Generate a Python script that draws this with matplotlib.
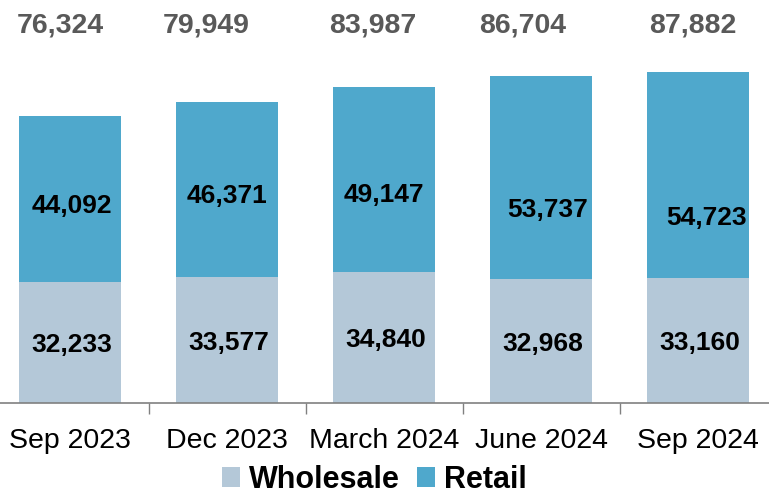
import matplotlib.pyplot as plt

plt.rcParams['font.family'] = ['Liberation Sans', 'DejaVu Sans']

# Datos de inventario por periodo
periodos = ["Sep 2023", "Dec 2023", "March 2024", "June 2024", "Sep 2024"]
wholesale = [32233, 33577, 34840, 32968, 33160]
retail = [44092, 46371, 49147, 53737, 54723]
totales = [76324, 79949, 83987, 86704, 87882]

color_wholesale = "#B4C8D8"
color_retail = "#4FA8CC"

fig = plt.figure(figsize=(7.69, 4.94), dpi=100)
ax = fig.add_axes([0, 0.1842, 1, 0.8158])

x = range(len(periodos))
ancho = 0.65
ax.bar(x, wholesale, width=ancho, color=color_wholesale, label="Wholesale")
ax.bar(x, retail, width=ancho, bottom=wholesale, color=color_retail, label="Retail")

# Ajustes manuales de posición de las etiquetas (en puntos)
dx_retail = [1, 0, 0, 5, 6]
dy_retail = [-5, -5, -11, -23, -31]
dx_total = [-7, -15, -8, -13, -4]

for i in x:
    ax.annotate(f"{wholesale[i]:,}", (i, wholesale[i] / 2), xytext=(1, -2),
                textcoords="offset points", ha="center", va="center",
                fontsize=19, fontweight="bold", color="black")
    ax.annotate(f"{retail[i]:,}", (i, wholesale[i] + retail[i] / 2),
                xytext=(dx_retail[i], dy_retail[i]), textcoords="offset points",
                ha="center", va="center", fontsize=19, fontweight="bold", color="black")
    ax.annotate(f"{totales[i]:,}", (i, 100300), xytext=(dx_total[i], 0),
                textcoords="offset points", ha="center", va="center",
                fontsize=20.5, fontweight="bold", color="#595959")

ax.set_xlim(-0.446, 4.452)
ax.set_ylim(0, 107000)

ax.set_xticks(list(x))
ax.set_xticklabels(periodos, fontsize=20.5)
ax.tick_params(axis="x", which="major", length=0, pad=18)
ax.set_xticks([0.5, 1.5, 2.5, 3.5], minor=True)
ax.tick_params(axis="x", which="minor", length=8, color="#808080", width=1)
ax.set_yticks([])

for lado in ["top", "right", "left"]:
    ax.spines[lado].set_visible(False)
ax.spines["bottom"].set_color("#808080")
ax.spines["bottom"].set_linewidth(1.2)

fig.legend(loc="center", bbox_to_anchor=(0.487, 0.029), ncol=2, frameon=False,
           prop={"size": 22, "weight": "bold"}, handlelength=0.6, handleheight=0.6,
           handletextpad=0.3, columnspacing=0.55, borderpad=0, borderaxespad=0)

fig.savefig("out.png", dpi=100)
